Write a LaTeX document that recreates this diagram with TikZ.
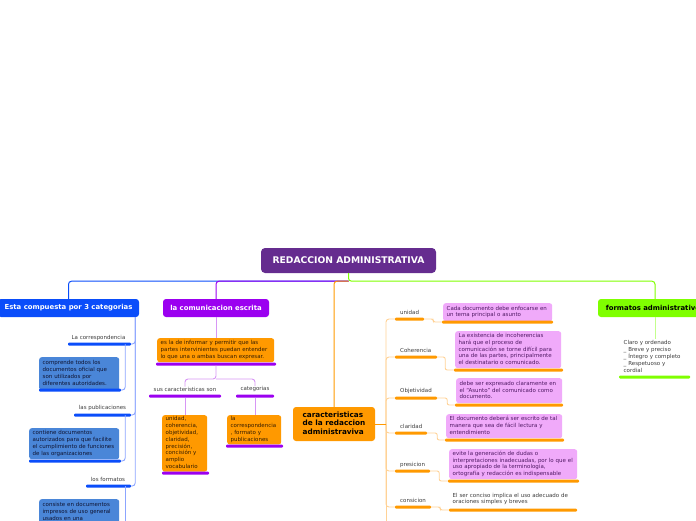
\documentclass[tikz,border=0pt]{standalone}
\usepackage{fontspec}
\setmainfont{DejaVu Sans}
\usetikzlibrary{calc}
\definecolor{rootc}{RGB}{101,44,143}
\definecolor{bluec}{RGB}{10,77,250}
\definecolor{blinec}{RGB}{140,165,255}
\definecolor{stblue}{RGB}{74,134,216}
\definecolor{purplec}{RGB}{155,0,240}
\definecolor{lpurple}{RGB}{215,150,245}
\definecolor{orangec}{RGB}{255,153,0}
\definecolor{lorange}{RGB}{255,210,150}
\definecolor{pinkc}{RGB}{240,170,250}
\definecolor{greenc}{RGB}{127,255,0}
\definecolor{lgreen}{RGB}{195,255,140}
\definecolor{labc}{RGB}{60,60,60}
\definecolor{navyt}{RGB}{15,20,50}
\definecolor{brownt}{RGB}{55,30,0}
\definecolor{pinkt}{RGB}{80,25,100}
\newcommand{\fsS}{\fontsize{5.5}{6.8}\selectfont}
\newcommand{\fsB}{\fontsize{6.9}{8.5}\selectfont\bfseries}
\newcommand{\ls}[1]{\begin{tabular}{@{}l@{}}#1\end{tabular}}
\tikzset{
  rootbox/.style={rounded corners=4pt, fill=rootc, text=white, font=\fontsize{9.2}{10}\selectfont\bfseries, minimum width=175pt, minimum height=25pt, inner sep=0pt},
  mainbox/.style={rounded corners=3pt, font=\fsB, minimum height=18pt, inner sep=0pt},
  bigbox/.style={rounded corners=3pt, font=\fontsize{7.3}{8.7}\selectfont\bfseries, align=left, inner sep=0pt},
  sbox/.style={rounded corners=2.5pt, anchor=north west, inner xsep=3.5pt, inner ysep=1pt, align=left, font=\fsS},
  barn/.style={rectangle, inner sep=0pt, minimum height=3pt, rounded corners=1pt},
  lab/.style={font=\fsS, text=labc, inner sep=0pt},
  conn/.style={line width=1pt, rounded corners=3pt},
  thin/.style={line width=0.9pt, rounded corners=3pt},
}
\begin{document}
\begin{tikzpicture}[x=1pt,y=-1pt]
\useasboundingbox (0,0) rectangle (696,520);

% root and main branches
\node[rootbox] (root) at (348.5,260.5) {REDACCION ADMINISTRATIVA};
\node[mainbox, fill=bluec, text=white, minimum width=141pt] (bb) at (68.5,308) {Esta compuesta por 3 categorias};
\node[mainbox, fill=purplec, text=white, minimum width=106pt] (pb) at (216,308) {la comunicacion escrita};
\node[mainbox, fill=greenc, text=black, minimum width=114pt] (gb) at (655,308) {formatos administrativos};
\node[bigbox, fill=orangec, text=black, minimum width=82pt, minimum height=34pt] (ob) at (334,424) {\ls{caracteristicas\\de la redaccion\\administraviva}};

\coordinate (hub) at ($(root.south)+(0,8)$);
\draw[conn, draw=bluec] (hub) -| (bb.north);
\draw[conn, draw=purplec] (hub) -| (pb.north);
\draw[conn, draw=orangec] (hub) -| (ob.north);
\draw[conn, draw=greenc] (root.south) -- (hub) -| (gb.north);

% ---------- blue subtree
\node[lab] (bl1) at (98.5,337.5) {La correspondencia};
\node[barn, fill=bluec, minimum width=63pt] (bbar1) at (99.5,344) {};
\node[lab] (bl2) at (102.5,408) {las publicaciones};
\node[barn, fill=bluec, minimum width=57pt] (bbar2) at (102.5,415) {};
\node[lab] (bl3) at (108,479) {los formatos};
\node[barn, fill=bluec, minimum width=45pt] (bbar3) at (108.5,486) {};

\node[sbox, fill=stblue, text=navyt, text width=73pt, minimum height=33pt] (bx1) at (39,357) {\ls{comprende todos los\\documentos oficial que\\son utilizados por\\diferentes autoridades.}};
\node[barn, fill=bluec, minimum width=82pt] (bxb1) at (80,390) {};
\node[sbox, fill=stblue, text=navyt, text width=83pt, minimum height=31pt] (bx2) at (29,428) {\ls{contiene documentos\\autorizados para que facilite\\el cumplimiento de funciones\\de las organizaciones}};
\node[barn, fill=bluec, minimum width=92pt] (bxb2) at (75,461) {};
\node[sbox, fill=stblue, text=navyt, text width=73pt, minimum height=26pt] (bx3) at (39,499) {\ls{consiste en documentos\\impresos de uso general\\usados en una}};

\coordinate (btr) at ($(bb.south east)+(-4,0)$);
\draw[thin, draw=blinec] (btr) |- (bbar1.east);
\draw[thin, draw=blinec] (btr) |- (bbar2.east);
\draw[thin, draw=blinec] (btr) |- (bbar3.east);
\draw[thin, draw=blinec] ($(bbar1.east)+(-6,0)$) |- (bxb1.east);
\draw[thin, draw=blinec] ($(bbar2.east)+(-6,0)$) |- (bxb2.east);
\draw[thin, draw=blinec] ($(bbar3.east)+(-6,0)$) -- ($(bbar3.east)+(-6,50)$);

% ---------- purple subtree
\node[sbox, fill=orangec, text=brownt, text width=110pt, minimum height=24pt] (po1) at (157,338) {\ls{es la de informar y permitir que las\\partes intervinientes puedan entender\\lo que una o ambas buscan expresar.}};
\node[barn, fill=purplec, minimum width=120pt] (pob1) at (216,364) {};
\draw[thin, draw=lpurple] (pb.south) -- (po1.north -| pb.south);

\node[lab] (pl1) at (185,389) {sus caracteristicas son};
\node[barn, fill=purplec, minimum width=72pt] (plb1) at (185,396) {};
\node[lab] (pl2) at (255,389) {categorias};
\node[barn, fill=purplec, minimum width=38pt] (plb2) at (255,396) {};
\coordinate (psplit) at (216,379);
\draw[thin, draw=lpurple] (pob1.south) -- (psplit) -| (pl1.north);
\draw[thin, draw=lpurple] (psplit) -| (pl2.north);

\node[sbox, fill=orangec, text=brownt, text width=38pt, minimum height=56pt] (po2) at (162,415) {\ls{unidad,\\coherencia,\\objetividad,\\claridad,\\precisión,\\concisión y\\amplio\\vocabulario}};
\node[barn, fill=purplec, minimum width=47pt] (pob2) at (185.5,473) {};
\node[sbox, fill=orangec, text=brownt, text width=47pt, minimum height=28pt] (po3) at (227,415) {\ls{la\\correspondencia\\, formato y\\publicaciones}};
\node[barn, fill=purplec, minimum width=57pt] (pob3) at (254.5,446) {};
\draw[thin, draw=lpurple] (plb1.south) -- (po2.north -| plb1.south);
\draw[thin, draw=lpurple] (plb2.south) -- (po3.north -| plb2.south);

% ---------- orange subtree
\coordinate (ohub) at (386,424);
\node[barn, fill=orangec, minimum width=29pt] (oc1) at (409.5,319) {};
\node[barn, fill=orangec, minimum width=42pt] (oc2) at (416,357) {};
\node[barn, fill=orangec, minimum width=42pt] (oc3) at (416,398) {};
\node[barn, fill=orangec, minimum width=32pt] (oc4) at (411,433) {};
\node[barn, fill=orangec, minimum width=35pt] (oc5) at (412.5,471) {};
\node[barn, fill=orangec, minimum width=36pt] (oc6) at (413,507) {};
\node[lab, anchor=west] (ol1) at (400,312) {unidad};
\node[lab, anchor=west] (ol2) at (400,350) {Coherencia};
\node[lab, anchor=west] (ol3) at (400,391) {Objetividad};
\node[lab, anchor=west] (ol4) at (400,426) {claridad};
\node[lab, anchor=west] (ol5) at (400,465) {presicion};
\node[lab, anchor=west] (ol6) at (400,500) {consicion};

\foreach \n in {1,...,6} {\draw[thin, draw=lorange] (ohub) |- (oc\n.west);}
\draw[thin, draw=lorange] (ohub) -- (386,530);
\draw[line width=1pt, draw=orangec] (ob.east) -- (ohub);

\node[sbox, fill=pinkc, text=pinkt, text width=102pt, minimum height=18pt] (pk1) at (443,303) {\ls{Cada documento debe enfocarse en\\un tema principal o asunto}};
\node[barn, fill=orangec, minimum width=111pt] (pkb1) at (497.5,322) {};
\node[sbox, fill=pinkc, text=pinkt, text width=99pt, minimum height=37pt] (pk2) at (455,331) {\ls{La existencia de incoherencias\\hará que el proceso de\\comunicación se torne difícil para\\una de las partes, principalmente\\el destinatario o comunicado.}};
\node[barn, fill=orangec, minimum width=109pt] (pkb2) at (508.5,370) {};
\node[sbox, fill=pinkc, text=pinkt, text width=99pt, minimum height=25pt] (pk3) at (456,378) {\ls{debe ser expresado claramente en\\el ``Asunto'' del comunicado como\\documento.}};
\node[barn, fill=orangec, minimum width=108pt] (pkb3) at (509,405) {};
\node[sbox, fill=pinkc, text=pinkt, text width=109pt, minimum height=24pt] (pk4) at (446,414) {\ls{El documento deberá ser escrito de tal\\manera que sea de fácil lectura y\\entendimiento}};
\node[barn, fill=orangec, minimum width=119pt] (pkb4) at (504.5,440) {};
\node[sbox, fill=pinkc, text=pinkt, text width=121pt, minimum height=30pt] (pk5) at (449,449) {\ls{evite la generación de dudas o\\interpretaciones inadecuadas, por lo que el\\uso apropiado de la terminología,\\ortografía y redacción es indispensable}};
\node[barn, fill=orangec, minimum width=131pt] (pkb5) at (513.5,481) {};
\node[sbox, text=labc, text width=121pt, minimum height=16pt] (pk6) at (449,491) {\ls{El ser conciso implica el uso adecuado de\\oraciones simples y breves}};
\node[barn, fill=orangec, minimum width=128pt] (pkb6) at (513,510) {};

\draw[thin, draw=lorange, rounded corners=2pt] (oc1.east) -- ++(9,0) |- (pkb1.west);
\draw[thin, draw=lorange, rounded corners=2pt] (oc2.east) -- ++(8,0) |- (pkb2.west);
\draw[thin, draw=lorange, rounded corners=2pt] (oc3.east) -- ++(10,0) |- (pkb3.west);
\draw[thin, draw=lorange, rounded corners=2pt] (oc4.east) -- ++(10,0) |- (pkb4.west);
\draw[thin, draw=lorange, rounded corners=2pt] (oc5.east) -- ++(9,0) |- (pkb5.west);
\draw[thin, draw=lorange, rounded corners=2pt] (oc6.east) -- ++(9,0) |- (pkb6.west);

% ---------- green subtree
\node[sbox, text=labc, text width=67pt, minimum height=33pt] (gt) at (620,339) {\ls{Claro y ordenado\\\_ Breve y preciso\\\_ Íntegro y completo\\\_ Respetuoso y\\cordial}};
\node[barn, fill=greenc, minimum width=71pt] (gbar) at (654.5,377) {};
\draw[thin, draw=lgreen] (gb.south) -- (gt.north -| gb.south);
\end{tikzpicture}
\end{document}
